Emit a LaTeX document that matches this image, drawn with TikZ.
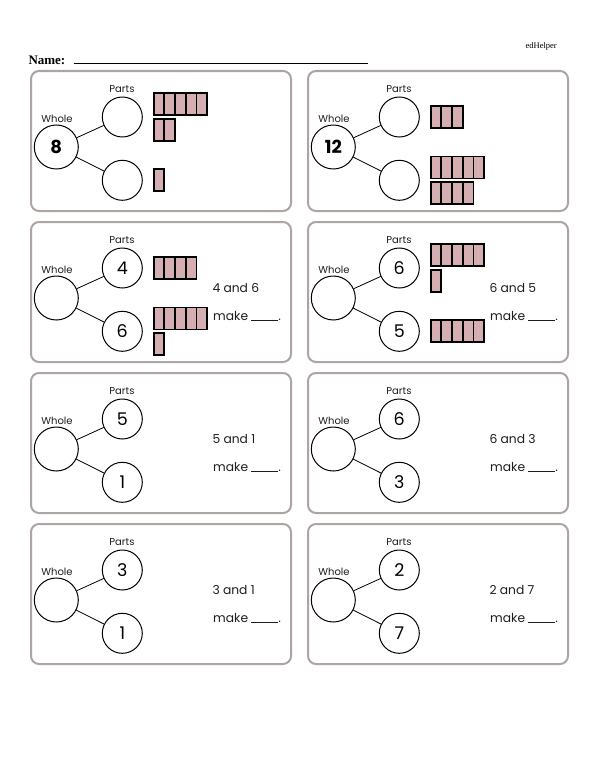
\documentclass[tikz,border=0pt]{standalone}
\usepackage{fontspec}
\setmainfont{Liberation Serif}
\newfontfamily\kidfont{Poppins}
\definecolor{barfill}{HTML}{D4AEB0}
\definecolor{panelline}{HTML}{ADA4A4}
\definecolor{inkgray}{HTML}{1E1E1E}
\tikzset{
  panelbox/.style={draw=panelline, line width=2pt, rounded corners=8pt, minimum width=260pt, minimum height=140pt, inner sep=0pt, anchor=north west},
  wholecirc/.style={circle, draw, line width=1pt, minimum size=44pt, inner sep=0pt, font=\kidfont\bfseries\fontsize{18}{18}\selectfont},
  partcirc/.style={circle, draw, line width=1pt, minimum size=40pt, inner sep=0pt, font=\kidfont\fontsize{17.5}{18}\selectfont},
  lbl/.style={font=\kidfont\fontsize{10}{10}\selectfont, inner sep=0pt, text=inkgray},
  cellbox/.style={draw=black, fill=barfill, line width=1.9pt},
  sumtext/.style={font=\kidfont\fontsize{12.3}{13}\selectfont, inner sep=0pt, anchor=base west, text=inkgray},
  link/.style={line width=0.8pt},
}
\newcommand\cellrow[3]{%
  \foreach \k in {1,...,#3}{\draw[cellbox] ({#1+(\k-1)*10.7},{#2}) rectangle ++(10.7,22);}}
\newcommand\barstack[3]{%
  \ifnum#3>5
    \cellrow{#1}{#2-23.85}{5}%
    \pgfmathtruncatemacro\restcells{#3-5}%
    \cellrow{#1}{#2+1.85}{\restcells}%
  \else
    \ifnum#3>0 \cellrow{#1}{#2-11}{#3}\fi
  \fi}
% #1 name, #2 x0, #3 y0, #4 whole, #5 top, #6 bottom, #7 top bars, #8 bottom bars, #9 sum
\newcommand\ppanel[9]{%
  \begin{scope}[shift={(#2,#3)}]
    \node[panelbox] (#1box) at (0,0) {};
    \node[wholecirc] (#1w) at (26.3,77) {#4};
    \node[partcirc] (#1t) at (92.3,47) {#5};
    \node[partcirc] (#1b) at (92.3,110.3) {#6};
    \node[lbl] (#1pl) at (92,19) {Parts};
    \node[lbl] (#1wl) at (27,49) {Whole};
    \draw[link] (#1w) -- (#1t);
    \draw[link] (#1w) -- (#1b);
    \barstack{123.7}{47}{#7}
    \barstack{123.7}{110.3}{#8}
    \if\relax\detokenize{#9}\relax\else
      \node[sumtext] (#1s) at (182.3,71) {#9};
      \node[sumtext] (#1m) at (183,99.5) {make \rule[-0.5pt]{27pt}{0.7pt}.};
    \fi
  \end{scope}}
\begin{document}
\begin{tikzpicture}[x=1pt,y=-1pt]
  \useasboundingbox[fill=white] (0,0) rectangle (600,776);
  \node[font=\bfseries\fontsize{13}{13}\selectfont, anchor=base west, inner sep=0pt] (name) at (28.3,64) {Name:};
  \coordinate (nameA) at (73.5,64);
  \coordinate (nameB) at (368,64);
  \draw[line width=1pt] (nameA) -- (nameB);
  \node[font=\fontsize{8.5}{9}\selectfont, anchor=base east, inner sep=0pt] (brand) at (557,48.5) {edHelper};
  \ppanel{p1}{30}{70}{8}{}{}{7}{1}{}
  \ppanel{p2}{307}{70}{12}{}{}{3}{9}{}
  \ppanel{p3}{30}{221}{}{4}{6}{4}{6}{4 and 6}
  \ppanel{p4}{307}{221}{}{6}{5}{6}{5}{6 and 5}
  \ppanel{p5}{30}{372}{}{5}{1}{0}{0}{5 and 1}
  \ppanel{p6}{307}{372}{}{6}{3}{0}{0}{6 and 3}
  \ppanel{p7}{30}{523}{}{3}{1}{0}{0}{3 and 1}
  \ppanel{p8}{307}{523}{}{2}{7}{0}{0}{2 and 7}
\end{tikzpicture}
\end{document}
